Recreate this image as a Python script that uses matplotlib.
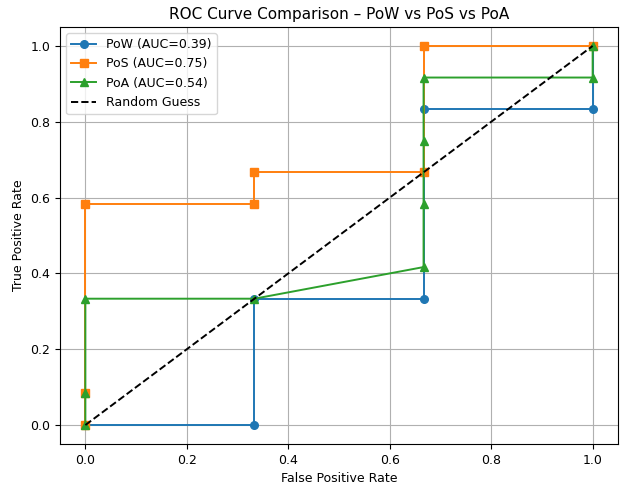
import matplotlib
matplotlib.use("Agg")
import matplotlib.pyplot as plt

plt.rcParams['font.size'] = 9

pow_fpr = [0, 0.3333, 0.3333, 0.6667, 0.6667, 1.0, 1.0]
pow_tpr = [0, 0, 0.3333, 0.3333, 0.8333, 0.8333, 1.0]
pos_fpr = [0, 0, 0, 0.3333, 0.3333, 0.6667, 0.6667, 1.0]
pos_tpr = [0, 0.0833, 0.5833, 0.5833, 0.6667, 0.6667, 1.0, 1.0]
poa_fpr = [0, 0, 0, 0.3333, 0.6667, 0.6667, 0.6667, 0.6667, 1.0, 1.0]
poa_tpr = [0, 0.0833, 0.3333, 0.3333, 0.4167, 0.5833, 0.75, 0.9167, 0.9167, 1.0]

fig, ax = plt.subplots(figsize=(6.2, 4.84), dpi=100)
ax.plot(pow_fpr, pow_tpr, marker='o', markersize=5.5, linewidth=1.4, label='PoW (AUC=0.39)')
ax.plot(pos_fpr, pos_tpr, marker='s', markersize=5.5, linewidth=1.4, label='PoS (AUC=0.75)')
ax.plot(poa_fpr, poa_tpr, marker='^', markersize=5.5, linewidth=1.4, label='PoA (AUC=0.54)')
ax.plot([0, 1], [0, 1], 'k--', linewidth=1.4, label='Random Guess')
ax.set_xlabel('False Positive Rate')
ax.set_ylabel('True Positive Rate')
ax.set_title('ROC Curve Comparison – PoW vs PoS vs PoA', fontsize=11)
ax.legend(loc='upper left')
ax.grid(True)
fig.subplots_adjust(left=60/620, right=618/620, top=1-27/484, bottom=1-444/484)
fig.savefig('out.png')
